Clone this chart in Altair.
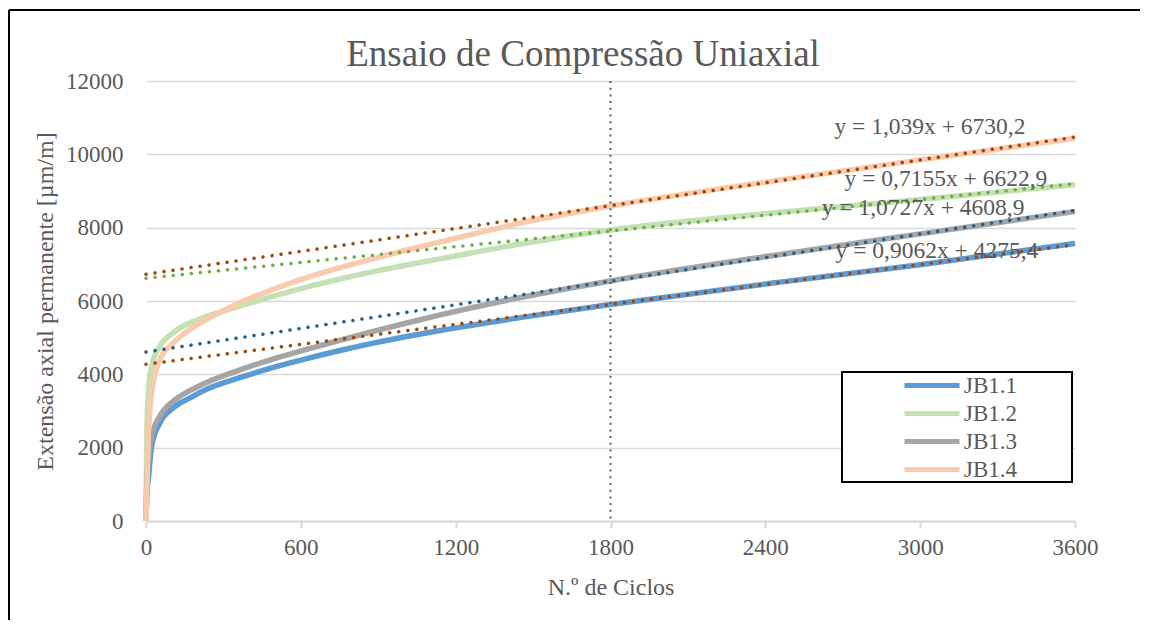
import altair as alt
import pandas as pd

FONT = "Liberation Serif"
TXT = "#595959"
GRID = "#D9D9D9"

series = ["JB1.1", "JB1.2", "JB1.3", "JB1.4"]
curve_colors = ["#5B9BD5", "#C5E0B4", "#A5A5A5", "#F8CBAD"]
trend_colors = ["#9E480E", "#70AD47", "#255E91", "#9E480E"]

cycles = [0, 3, 9, 22, 54, 106, 171, 235, 364, 494, 623, 752, 881, 1010,
          1140, 1462, 1800, 2457, 3000, 3600]
jb11 = [0, 700, 1140, 2050, 2680, 3090, 3360, 3590, 3910, 4190, 4430, 4650,
        4850, 5030, 5195, 5560, 5905, 6515, 6990, 7570]
jb12 = [0, 2300, 3500, 4230, 4770, 5140, 5410, 5580, 5860, 6130, 6380, 6600,
        6800, 6980, 7150, 7570, 7935, 8420, 8770, 9170]
jb13 = [0, 1100, 1680, 2320, 2860, 3270, 3560, 3780, 4120, 4420, 4680, 4930,
        5170, 5400, 5620, 6110, 6545, 7270, 7830, 8440]
jb14 = [0, 770, 2320, 3500, 4410, 4860, 5230, 5500, 5955, 6320, 6640, 6910,
        7155, 7390, 7610, 8140, 8590, 9300, 9850, 10440]

trend_x = [0, 3600]
trend_start = [4275.4, 6622.9, 4608.9, 6730.2]
trend_end = [7537.7, 9198.7, 8470.6, 10470.6]

eq_text = ["y = 0,9062x + 4275,4", "y = 0,7155x + 6622,9",
           "y = 1,0727x + 4608,9", "y = 1,039x + 6730,2"]
eq_x = [3065, 3100, 3011, 3038]
eq_y = [7355, 9340, 8527, 10736]

x_ticks = [0, 600, 1200, 1800, 2400, 3000, 3600]
y_ticks = [0, 2000, 4000, 6000, 8000, 10000, 12000]
ref_cycle = [1800]
title_text = ["Ensaio de Compressão Uniaxial"]

rows = []
for name, ys in zip(series, [jb11, jb12, jb13, jb14]):
    for c, v in zip(cycles, ys):
        rows.append({"Ensaio": name, "Ciclos": c, "Ext": v})
curves_df = pd.DataFrame(rows)

trows = []
for name, a, b in zip(series, trend_start, trend_end):
    trows.append({"Ensaio": name, "Ciclos": trend_x[0], "Ext": a})
    trows.append({"Ensaio": name, "Ciclos": trend_x[1], "Ext": b})
trend_df = pd.DataFrame(trows)

eq_df = pd.DataFrame({"t": eq_text, "Ciclos": eq_x, "Ext": eq_y})
ref_df = pd.DataFrame({"Ciclos": ref_cycle})
one = pd.DataFrame({"k": [0]})
title_df = pd.DataFrame({"t": title_text})

xenc = alt.X("Ciclos:Q",
             scale=alt.Scale(domain=[0, 3600], nice=False),
             axis=alt.Axis(values=x_ticks, format="d", title="N.º de Ciclos",
                           grid=False, domainColor=GRID, domainWidth=2,
                           tickColor=GRID, tickWidth=2, tickSize=7,
                           labelFontSize=23, labelPadding=8, labelFlush=False,
                           titleFontSize=24, titlePadding=16,
                           labelFont=FONT, titleFont=FONT, labelColor=TXT,
                           titleColor=TXT, titleFontWeight="normal"))
yenc = alt.Y("Ext:Q",
             scale=alt.Scale(domain=[0, 12000], nice=False),
             axis=alt.Axis(values=y_ticks, format="d",
                           title="Extensão axial permanente [µm/m]",
                           grid=True, gridColor=GRID, gridWidth=1.5,
                           domain=False, ticks=False, tickSize=0,
                           labelFontSize=23, labelPadding=23, labelFlush=False,
                           titleFontSize=24, titlePadding=8,
                           labelFont=FONT, titleFont=FONT, labelColor=TXT,
                           titleColor=TXT, titleFontWeight="normal"))

curves = alt.Chart(curves_df).mark_line(strokeWidth=5.5, interpolate="monotone").encode(
    x=xenc, y=yenc,
    color=alt.Color("Ensaio:N",
                    scale=alt.Scale(domain=series, range=curve_colors),
                    legend=alt.Legend(title=None, orient="none", legendX=756, legendY=293,
                                      symbolType="stroke", symbolSize=3025,
                                      symbolStrokeWidth=5, labelFontSize=23,
                                      labelColor=TXT, labelFont=FONT, labelOffset=2,
                                      clipHeight=23, rowPadding=4, padding=0)),
    detail="Ensaio:N",
)

trend = alt.Chart(trend_df).mark_line(strokeWidth=3.5, strokeDash=[0.1, 9],
                                      strokeCap="round").encode(
    x="Ciclos:Q", y="Ext:Q",
    color=alt.Color("Ensaio:N", scale=alt.Scale(domain=series, range=trend_colors),
                    legend=None),
    detail="Ensaio:N",
)

vline = alt.Chart(ref_df).mark_rule(color=TXT, strokeWidth=2, strokeDash=[2, 4.7]).encode(
    x="Ciclos:Q", y=alt.value(0), y2=alt.value(440))

eqs = alt.Chart(eq_df).mark_text(font=FONT, fontSize=23.5, color=TXT,
                                 align="center", baseline="middle").encode(
    x="Ciclos:Q", y="Ext:Q", text="t:N")

title = alt.Chart(title_df).mark_text(font=FONT, fontSize=37, color=TXT,
                                      align="center", baseline="middle").encode(
    x=alt.value(437), y=alt.value(-26), text="t:N")

legend_box = alt.Chart(one).mark_rect(fill="white", stroke="black", strokeWidth=2).encode(
    x=alt.value(696), x2=alt.value(926), y=alt.value(291), y2=alt.value(401))

border_left = alt.Chart(one).mark_rule(color="black", strokeWidth=2).encode(
    x=alt.value(-137), y=alt.value(-71), y2=alt.value(539))
border_top = alt.Chart(one).mark_rule(color="black", strokeWidth=2).encode(
    x=alt.value(-137), x2=alt.value(994), y=alt.value(-71))

chart = alt.layer(legend_box, curves, trend, vline, eqs, title,
                  border_left, border_top).resolve_scale(
    color="independent"
).properties(
    width=929, height=440,
    padding={"left": 0, "top": 1, "right": 0, "bottom": 0},
    background="white",
).configure_view(stroke=None).configure_legend(labelFont=FONT, labelColor=TXT)

chart.save("out.html", embed_options={"renderer": "svg", "actions": False})
